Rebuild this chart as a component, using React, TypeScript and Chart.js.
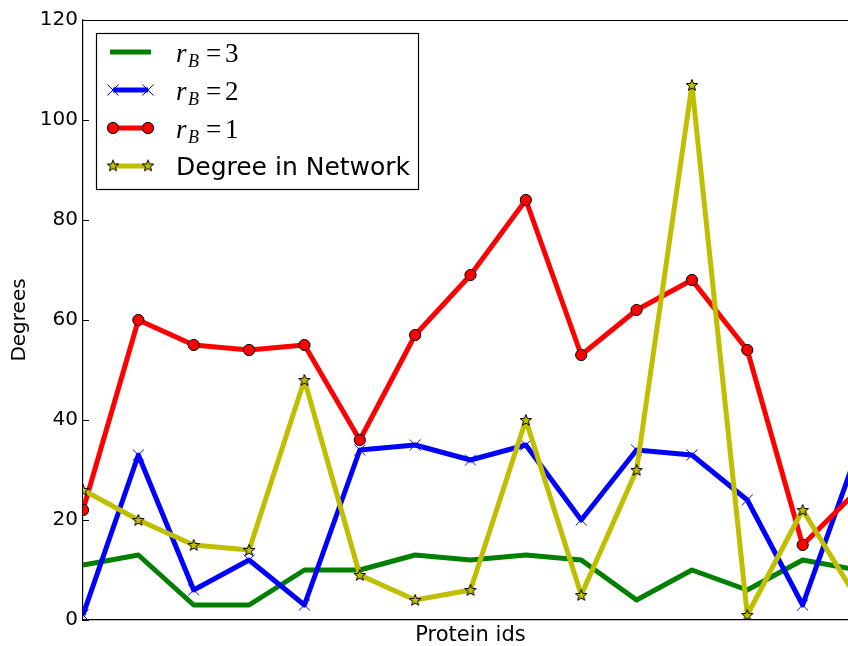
import React, { useEffect, useRef } from "react";
import { Chart, registerables } from "chart.js";

Chart.register(...registerables);

// ---- data ----
const proteinIds = [0, 1, 2, 3, 4, 5, 6, 7, 8, 9, 10, 11, 12, 13, 14];
const rB3 = [11, 13, 3, 3, 10, 10, 13, 12, 13, 12, 4, 10, 6, 12, 10];
const rB2 = [1, 33, 6, 12, 3, 34, 35, 32, 35, 20, 34, 33, 24, 3, 34];
const rB1 = [22, 60, 55, 54, 55, 36, 57, 69, 84, 53, 62, 68, 54, 15, 26];
const networkDegree = [26, 20, 15, 14, 48, 9, 4, 6, 40, 5, 30, 107, 1, 22, 4];
const yTicks = [0, 20, 40, 60, 80, 100, 120];
const seriesLabels = ["r_B =3", "r_B =2", "r_B =1", "Degree in Network"];
const xAxisTitle = "Protein ids";
const yAxisTitle = "Degrees";

const GREEN = "#008000";
const BLUE = "#0000ff";
const RED = "#ff0000";
const YELLOW = "#bfbf00";

function makeStar(): HTMLCanvasElement {
  const c = document.createElement("canvas");
  c.width = 14;
  c.height = 14;
  const ctx = c.getContext("2d")!;
  ctx.beginPath();
  for (let k = 0; k < 10; k++) {
    const r = k % 2 === 0 ? 6 : 2.6;
    const a = -Math.PI / 2 + (k * Math.PI) / 5;
    ctx.lineTo(7 + r * Math.cos(a), 7.5 + r * Math.sin(a));
  }
  ctx.closePath();
  ctx.fillStyle = YELLOW;
  ctx.fill();
  ctx.lineWidth = 1;
  ctx.strokeStyle = "#000";
  ctx.stroke();
  return c;
}

function toPoints(values: number[]) {
  return proteinIds.map((id, i) => ({ x: id, y: values[i] }));
}

export default function App() {
  const ref = useRef<HTMLCanvasElement>(null);

  useEffect(() => {
    const star = makeStar();

    const framePlugin = {
      id: "framePlugin",
      afterDraw(chart: any) {
        const ctx = chart.ctx;
        const area = chart.chartArea;
        const y = chart.scales.y;
        ctx.save();
        // top spine
        ctx.strokeStyle = "#000";
        ctx.lineWidth = 1.2;
        ctx.beginPath();
        ctx.moveTo(area.left, area.top + 0.5);
        ctx.lineTo(chart.width, area.top + 0.5);
        ctx.stroke();
        // inward y ticks
        ctx.lineWidth = 1;
        yTicks.forEach((v) => {
          const py = Math.round(y.getPixelForValue(v)) + 0.5;
          ctx.beginPath();
          ctx.moveTo(area.left, py);
          ctx.lineTo(area.left + 6, py);
          ctx.stroke();
        });

        // legend
        const bx = 96, by = 33, bw = 322, bh = 156;
        ctx.fillStyle = "#fff";
        ctx.fillRect(bx, by, bw, bh);
        ctx.strokeStyle = "#000";
        ctx.lineWidth = 1.2;
        ctx.strokeRect(bx + 0.5, by + 0.5, bw, bh);

        const rows = [52, 90, 128, 166];
        const colors = [GREEN, BLUE, RED, YELLOW];
        const m1 = 113, m2 = 148;
        rows.forEach((ry, i) => {
          ctx.strokeStyle = colors[i];
          ctx.lineWidth = 5;
          ctx.lineCap = "butt";
          ctx.beginPath();
          ctx.moveTo(i === 0 ? 110 : m1, ry);
          ctx.lineTo(i === 0 ? 151 : m2, ry);
          ctx.stroke();
          [m1, m2].forEach((mx) => {
            if (i === 1) {
              ctx.strokeStyle = BLUE;
              ctx.lineWidth = 1;
              const d = 5.5;
              ctx.beginPath();
              ctx.moveTo(mx - d, ry - d);
              ctx.lineTo(mx + d, ry + d);
              ctx.moveTo(mx - d, ry + d);
              ctx.lineTo(mx + d, ry - d);
              ctx.stroke();
            } else if (i === 2) {
              ctx.fillStyle = RED;
              ctx.strokeStyle = "#000";
              ctx.lineWidth = 1;
              ctx.beginPath();
              ctx.arc(mx, ry, 5.6, 0, Math.PI * 2);
              ctx.fill();
              ctx.stroke();
            } else if (i === 3) {
              ctx.drawImage(star, mx - 7, ry - 7.5);
            }
          });
        });

        ctx.fillStyle = "#000";
        ctx.textBaseline = "alphabetic";
        ctx.textAlign = "left";
        const baselines = [62, 100, 138];
        const nums = ["3", "2", "1"];
        baselines.forEach((b, i) => {
          ctx.font = 'italic 27px "Liberation Serif"';
          ctx.fillText("r", 176, b);
          ctx.font = 'italic 18px "Liberation Serif"';
          ctx.fillText("B", 188, b + 5);
          ctx.font = '27px "Liberation Serif"';
          ctx.fillText("=", 206, b);
          ctx.fillText(nums[i], 225, b);
        });
        ctx.font = '25px "DejaVu Sans"';
        ctx.fillText(seriesLabels[3], 176, 175);
        ctx.restore();
      },
    };

    const common = {
      borderWidth: 5,
      tension: 0,
      fill: false,
      clip: 0,
      borderJoinStyle: "round" as const,
    };

    const chart = new Chart(ref.current!, {
      type: "line",
      data: {
        datasets: [
          {
            ...common,
            label: seriesLabels[0],
            data: toPoints(rB3),
            borderColor: GREEN,
            pointRadius: 0,
            order: 3,
          },
          {
            ...common,
            label: seriesLabels[1],
            data: toPoints(rB2),
            borderColor: BLUE,
            pointStyle: "crossRot",
            pointRadius: 7.8,
            pointBorderWidth: 1,
            pointBorderColor: BLUE,
            pointBackgroundColor: BLUE,
            order: 2,
          },
          {
            ...common,
            label: seriesLabels[2],
            data: toPoints(rB1),
            borderColor: RED,
            pointStyle: "circle",
            pointRadius: 5.6,
            pointBorderWidth: 1,
            pointBorderColor: "#000",
            pointBackgroundColor: RED,
            order: 1,
          },
          {
            ...common,
            label: seriesLabels[3],
            data: toPoints(networkDegree),
            borderColor: YELLOW,
            pointStyle: star as any,
            pointRadius: 6,
            order: 0,
          },
        ] as any,
      },
      options: {
        animation: false,
        responsive: false,
        maintainAspectRatio: false,
        layout: { autoPadding: false, padding: { top: 20, right: 0, left: 0, bottom: 0 } },
        plugins: {
          legend: { display: false },
          tooltip: { enabled: false },
        },
        scales: {
          x: {
            type: "linear",
            min: 0,
            max: 14,
            grid: { display: false, drawTicks: false },
            border: { display: true, color: "#000", width: 1.2 },
            ticks: { display: false },
            title: {
              display: true,
              text: xAxisTitle,
              color: "#000",
              font: { family: "DejaVu Sans", size: 21 },
              padding: { top: 0, bottom: -2.3 },
            },
            afterFit: (s: any) => {
              s.height = 26;
            },
          },
          y: {
            type: "linear",
            min: 0,
            max: 120,
            grid: { display: false, drawTicks: false },
            border: { display: true, color: "#000", width: 1.2 },
            ticks: {
              color: "#000",
              font: { family: "DejaVu Sans", size: 20 },
              padding: 5,
            },
            afterBuildTicks: (s: any) => {
              s.ticks = yTicks.map((v) => ({ value: v }));
            },
            title: {
              display: true,
              text: yAxisTitle,
              color: "#000",
              font: { family: "DejaVu Sans", size: 20 },
              padding: { top: 8, bottom: 0 },
            },
            afterFit: (s: any) => {
              s.width = 83;
            },
          },
        },
      },
      plugins: [framePlugin],
    });
    return () => chart.destroy();
  }, []);

  return (
    <div style={{ position: "absolute", left: 0, top: 0, width: 848, height: 646, overflow: "hidden" }}>
      <canvas ref={ref} width={858} height={646} style={{ display: "block" }} />
    </div>
  );
}
